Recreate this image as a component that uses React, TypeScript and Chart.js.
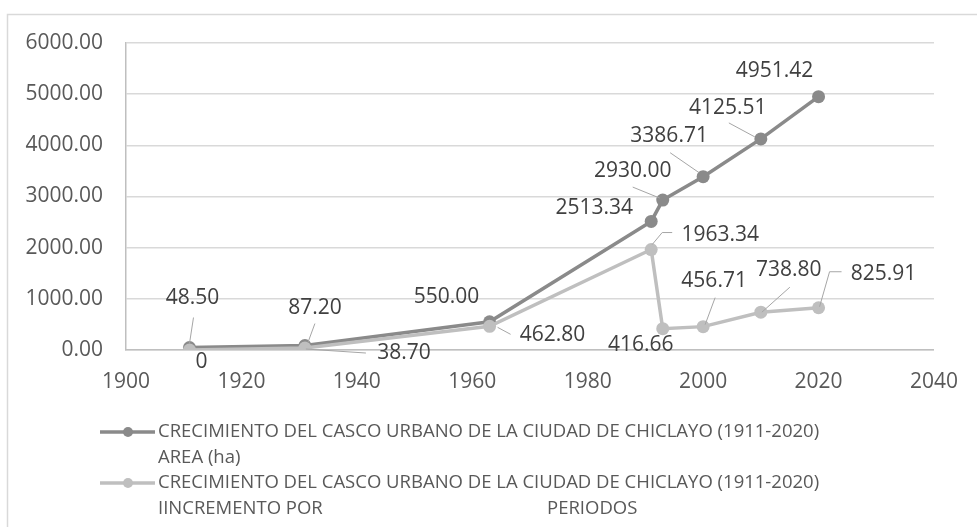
import React, { useEffect, useRef } from "react";
import { Chart, registerables } from "chart.js";

Chart.register(...registerables);

// ---- data ----
const years = [1911, 1931, 1963, 1991, 1993, 2000, 2010, 2020];
const areaHa = [48.5, 87.2, 550.0, 2513.34, 2930.0, 3386.71, 4125.51, 4951.42];
const incremento = [0, 38.7, 462.8, 1963.34, 416.66, 456.71, 738.8, 825.91];

const xMin = 1900;
const xMax = 2040;
const xStep = 20;
const yMin = 0;
const yMax = 6000;
const yStep = 1000;

const seriesNames = [
  ["CRECIMIENTO DEL CASCO URBANO DE LA CIUDAD DE CHICLAYO (1911-2020)", "AREA (ha)"],
  ["CRECIMIENTO DEL CASCO URBANO DE LA CIUDAD DE CHICLAYO (1911-2020)", "IINCREMENTO POR", "PERIODOS"],
];

// ---- styles ----
const DARK = "#8a8a8a";
const LIGHT = "#bfbfbf";
const FONT = "'Open Sans', 'Noto Sans', sans-serif";

// label placement relative to each point (pixels): text centre + leader polyline
type LabelPos = { dx: number; dy: number; leader?: number[][] };
const areaLabelPos: LabelPos[] = [
  { dx: 3, dy: -50, leader: [[0, -4], [4, -30]] },
  { dx: 10, dy: -38, leader: [[3, -3], [10, -22]] },
  { dx: -43, dy: -25 },
  { dx: -57, dy: -13 },
  { dx: -30, dy: -29, leader: [[-3, -2], [-30, -13]] },
  { dx: -34, dy: -41, leader: [[-4, -4], [-33, -24]] },
  { dx: -33, dy: -31, leader: [[-6, -2], [-32, -16]] },
  { dx: -44, dy: -26 },
];
const incLabelPos: LabelPos[] = [
  { dx: 12, dy: 12 },
  { dx: 99, dy: 5, leader: [[1, 1], [61, 5]] },
  { dx: 63, dy: 9, leader: [[8, 1], [21, 8]] },
  { dx: 69, dy: -15, leader: [[1, -5], [11, -17], [21, -17]] },
  { dx: -22, dy: 16 },
  { dx: 11, dy: -46, leader: [[2, -2], [12, -29]] },
  { dx: 28, dy: -42, leader: [[1, 0], [29, -25]] },
  { dx: 65, dy: -34, leader: [[1, -1], [11, -36], [23, -36]] },
];
const labelLayouts = [areaLabelPos, incLabelPos];

const fmt = (v: number) => (v === 0 ? "0" : v.toFixed(2));

const pointLabelsPlugin = {
  id: "pointLabels",
  afterDatasetsDraw(chart: any) {
    const ctx = chart.ctx as CanvasRenderingContext2D;
    ctx.save();
    ctx.font = `21px ${FONT}`;
    ctx.textAlign = "center";
    ctx.textBaseline = "middle";
    chart.data.datasets.forEach((ds: any, di: number) => {
      const meta = chart.getDatasetMeta(di);
      const layout = labelLayouts[di];
      meta.data.forEach((el: any, i: number) => {
        const pos = layout[i];
        if (pos.leader) {
          ctx.strokeStyle = "#a6a6a6";
          ctx.lineWidth = 1;
          ctx.beginPath();
          pos.leader.forEach(([lx, ly], k) => {
            if (k === 0) ctx.moveTo(el.x + lx, el.y + ly);
            else ctx.lineTo(el.x + lx, el.y + ly);
          });
          ctx.stroke();
        }
        ctx.fillStyle = "#404040";
        ctx.fillText(fmt(ds.data[i].y), el.x + pos.dx, el.y + pos.dy);
      });
    });
    ctx.restore();
  },
};

const frameLegendPlugin = {
  id: "frameLegend",
  beforeDraw(chart: any) {
    const ctx = chart.ctx as CanvasRenderingContext2D;
    ctx.save();
    ctx.fillStyle = "#ffffff";
    ctx.fillRect(0, 0, chart.width, chart.height);
    ctx.strokeStyle = "#d9d9d9";
    ctx.lineWidth = 1.5;
    ctx.strokeRect(7.5, 14.5, chart.width + 20, chart.height + 20);
    ctx.restore();
  },
  afterDraw(chart: any) {
    const ctx = chart.ctx as CanvasRenderingContext2D;
    ctx.save();
    ctx.font = `18.5px ${FONT}`;
    ctx.textBaseline = "middle";
    ctx.textAlign = "left";
    const colors = [DARK, LIGHT];
    const rowY = [[432, 458], [483, 509]];
    const textX = 158;
    seriesNames.forEach((lines, si) => {
      const y0 = rowY[si][0];
      ctx.strokeStyle = colors[si];
      ctx.lineWidth = 3.5;
      ctx.beginPath();
      ctx.moveTo(100, y0);
      ctx.lineTo(155, y0);
      ctx.stroke();
      ctx.fillStyle = colors[si];
      ctx.beginPath();
      ctx.arc(128, y0, 5, 0, Math.PI * 2);
      ctx.fill();
      ctx.fillStyle = "#595959";
      ctx.fillText(lines[0], textX, y0);
      ctx.fillText(lines[1], textX, rowY[si][1]);
      if (lines[2]) ctx.fillText(lines[2], 547, rowY[si][1]);
    });
    ctx.restore();
  },
};

export default function App() {
  const canvasRef = useRef<HTMLCanvasElement>(null);

  useEffect(() => {
    if (!canvasRef.current) return;
    const chart = new Chart(canvasRef.current, {
      type: "scatter",
      data: {
        datasets: [
          {
            label: seriesNames[0].join(" "),
            data: years.map((x, i) => ({ x, y: areaHa[i] })),
            showLine: true,
            borderColor: DARK,
            backgroundColor: DARK,
            borderWidth: 3.5,
            pointRadius: 6.5,
            pointBorderWidth: 0,
            pointBackgroundColor: DARK,
            order: 1,
          },
          {
            label: seriesNames[1].join(" "),
            data: years.map((x, i) => ({ x, y: incremento[i] })),
            showLine: true,
            borderColor: LIGHT,
            backgroundColor: LIGHT,
            borderWidth: 3.5,
            pointRadius: 6.5,
            pointBorderWidth: 0,
            pointBackgroundColor: LIGHT,
            order: 0,
          },
        ],
      },
      options: {
        animation: false,
        responsive: false,
        maintainAspectRatio: false,
        layout: { padding: { left: 0, top: 43, right: 40, bottom: 137 } },
        plugins: {
          legend: { display: false },
          tooltip: { enabled: false },
        },
        scales: {
          x: {
            type: "linear",
            min: xMin,
            max: xMax,
            afterFit: (s: any) => {
              s.height = 40;
            },
            ticks: {
              stepSize: xStep,
              padding: 19,
              color: "#595959",
              font: { family: FONT, size: 21 },
              callback: (v: any) => String(v),
            },
            grid: { display: false, drawTicks: false },
            border: { display: true, color: "#bfbfbf", width: 1.5 },
          },
          y: {
            type: "linear",
            min: yMin,
            max: yMax,
            afterFit: (s: any) => {
              s.width = 126;
            },
            ticks: {
              stepSize: yStep,
              padding: 23,
              color: "#595959",
              font: { family: FONT, size: 21 },
              callback: (v: any) => Number(v).toFixed(2),
            },
            grid: { color: "#d9d9d9", lineWidth: 1.5, drawTicks: false },
            border: { display: true, color: "#bfbfbf", width: 1.5 },
          },
        },
      },
      plugins: [pointLabelsPlugin, frameLegendPlugin],
    });
    return () => chart.destroy();
  }, []);

  return (
    <div style={{ position: "fixed", left: 0, top: 0, width: 977, height: 527, background: "#fff" }}>
      <canvas ref={canvasRef} width={977} height={527} style={{ display: "block" }} />
    </div>
  );
}
